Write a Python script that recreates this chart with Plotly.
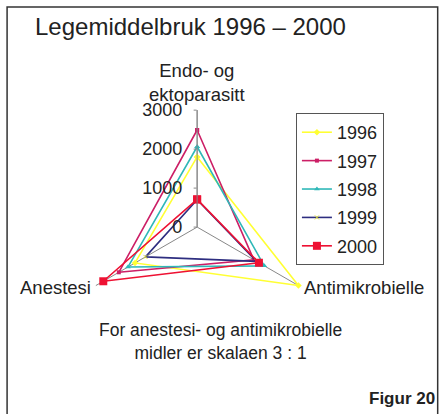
import plotly.graph_objects as go

# Axes (anestesi and antimikrobielle are drawn at scale 3:1)
categories = ["Endo- og ektoparasitt", "Antimikrobielle", "Anestesi"]
years = ["1996", "1997", "1998", "1999", "2000"]
values = {
    "1996": [1800, 3000, 1840],
    "1997": [2490, 1680, 2320],
    "1998": [2060, 1990, 2050],
    "1999": [700, 1760, 1530],
    "2000": [710, 1830, 2780],
}
radial_ticks = [0, 1000, 2000, 3000]

colors = {
    "1996": "#ffff33",
    "1997": "#cc1f66",
    "1998": "#2fb8b8",
    "1999": "#2e2e80",
    "2000": "#ee1133",
}
markers = {
    "1996": dict(symbol="diamond", size=5),
    "1997": dict(symbol="square", size=4),
    "1998": dict(symbol="triangle-up", size=5),
    "1999": dict(symbol="x-thin", size=4, line=dict(width=1, color="#dddd33")),
    "2000": dict(symbol="square", size=8),
}

fig = go.Figure()
for yr in years:
    r = values[yr] + values[yr][:1]
    theta = categories + categories[:1]
    fig.add_trace(go.Scatterpolar(
        r=r, theta=theta, mode="lines+markers", name=yr,
        legendgroup=yr,
        line=dict(color=colors[yr], width=1.6),
        marker=dict(color=colors[yr], **markers[yr]),
    ))

fig.update_layout(
    width=443, height=414,
    margin=dict(l=0, r=0, t=0, b=0),
    paper_bgcolor="white",
    font=dict(family="Liberation Sans, Arial, sans-serif", size=17, color="#222"),
    showlegend=True,
    legend=dict(
        x=0.668, y=0.727, xanchor="left", yanchor="top",
        bordercolor="#555", borderwidth=1, bgcolor="white",
        font=dict(size=18), tracegroupgap=2, itemwidth=30,
    ),
    polar=dict(
        domain=dict(x=[0.181, 0.709], y=[0.169, 0.734]),
        bgcolor="white",
        angularaxis=dict(
            rotation=90, direction="clockwise",
            showline=False, showgrid=True, gridcolor="#888", gridwidth=1,
            ticks="", showticklabels=False,
        ),
        radialaxis=dict(
            range=[0, 3000], tickvals=radial_ticks,
            ticktext=[f"{v}\u00a0" for v in radial_ticks],
            angle=90, tickangle=90,
            showgrid=False, showline=True, linecolor="#888",
            ticks="outside", ticklen=3, tickcolor="#888",
            tickfont=dict(size=18), side="counterclockwise",
        ),
    ),
    shapes=[dict(type="rect", xref="paper", yref="paper",
                 x0=0.016, x1=0.988, y0=-0.02, y1=0.983,
                 line=dict(color="#333", width=1.5))],
    annotations=[
        dict(text="Legemiddelbruk 1996 – 2000", x=33 / 443, y=1 - 27 / 414,
             xref="paper", yref="paper", xanchor="left", yanchor="middle",
             showarrow=False, font=dict(size=24)),
        # axis category labels
        dict(text="Endo- og<br>ektoparasitt", x=197 / 443, y=1 - 82 / 414,
             xref="paper", yref="paper", xanchor="center", yanchor="middle",
             showarrow=False, font=dict(size=18.5)),
        dict(text="Anestesi", x=93 / 443, y=1 - 287 / 414,
             xref="paper", yref="paper", xanchor="right", yanchor="middle",
             showarrow=False, font=dict(size=18.5)),
        dict(text="Antimikrobielle", x=302 / 443, y=1 - 287 / 414,
             xref="paper", yref="paper", xanchor="left", yanchor="middle",
             showarrow=False, font=dict(size=18.5)),
        dict(text="For anestesi- og antimikrobielle<br>midler er skalaen 3 : 1",
             x=220 / 443, y=1 - 341 / 414, xref="paper", yref="paper",
             xanchor="center", yanchor="middle", showarrow=False,
             font=dict(size=17.5)),
        dict(text="<b>Figur 20</b>", x=437 / 443, y=1 - 398 / 414,
             xref="paper", yref="paper", xanchor="right", yanchor="middle",
             showarrow=False, font=dict(size=17)),
    ],
)

fig.write_html("out.html", config={"displayModeBar": False},
               post_script="document.body.style.margin='0';")
